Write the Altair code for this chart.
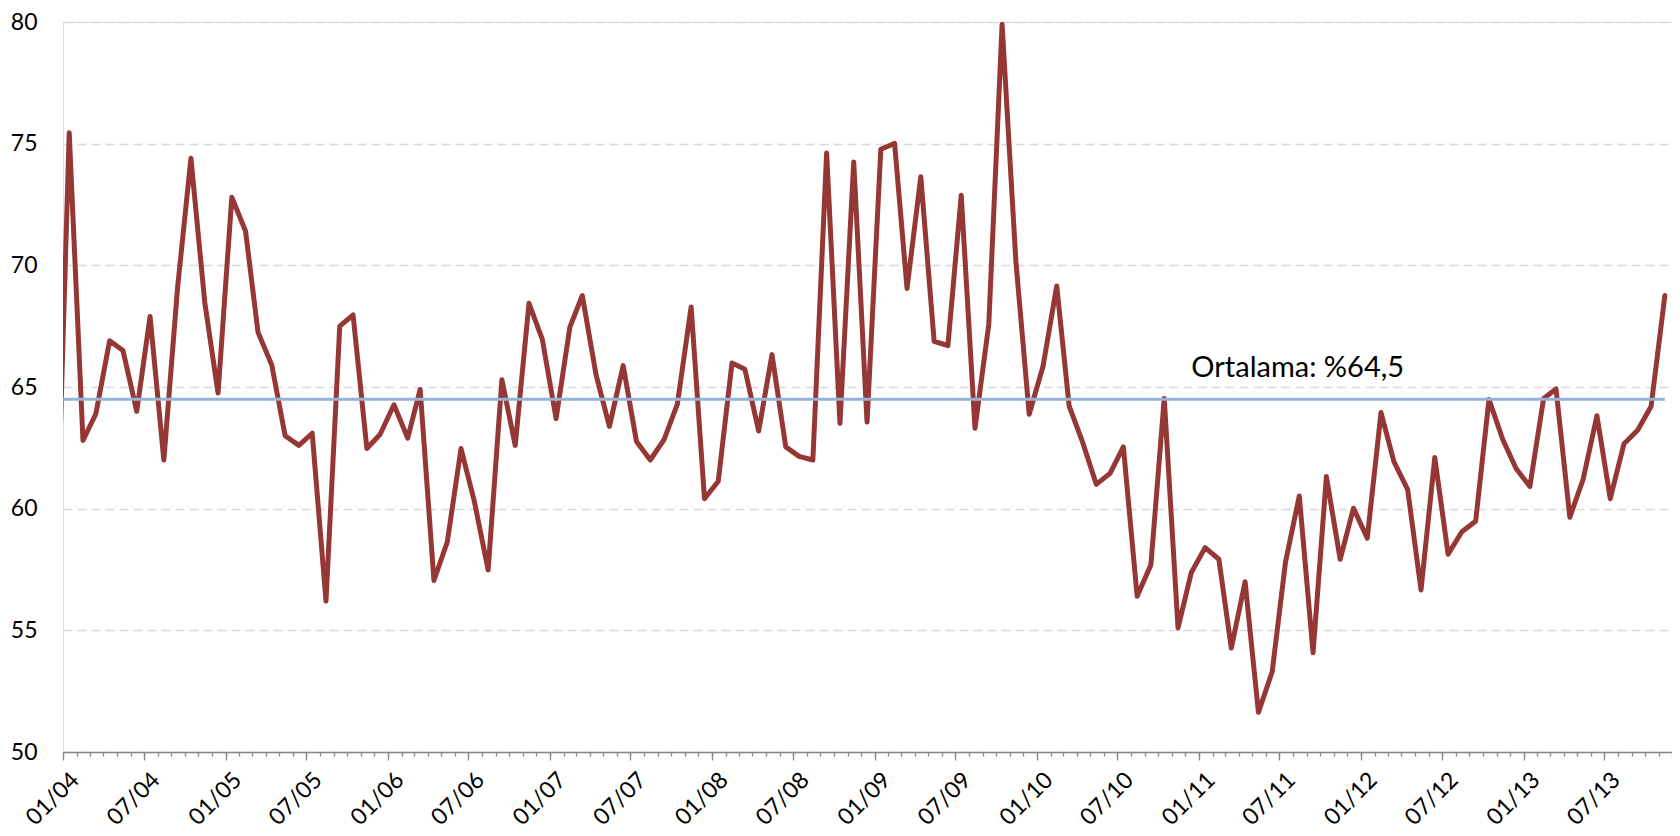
import altair as alt
import pandas as pd

# Monthly dates (mid-month) from Dec 2003 to Nov 2013
dates = []
for y in range(2003, 2014):
    for m in range(1, 13):
        if (y == 2003 and m < 12):
            continue
        if (y == 2013 and m > 11):
            continue
        dates.append(f"{y}-{m:02d}-15T00:00:00")

rate = [
    56.5,
    75.45, 62.8, 63.9, 66.9, 66.5, 64.0, 67.9, 62.0, 69.1, 74.4, 68.5, 64.75,
    72.8, 71.4, 67.25, 65.9, 63.0, 62.6, 63.1, 56.2, 67.5, 67.96, 62.47, 63.06,
    64.27, 62.9, 64.9, 57.05, 58.63, 62.47, 60.3, 57.48, 65.3, 62.6, 68.44, 66.96,
    63.7, 67.46, 68.76, 65.5, 63.38, 65.88, 62.76, 62.0, 62.84, 64.3, 68.29, 60.41,
    61.13, 65.99, 65.73, 63.19, 66.33, 62.54, 62.15, 62.0, 74.62, 63.51, 74.25, 63.56,
    74.77, 75.01, 69.05, 73.64, 66.88, 66.7, 72.88, 63.3, 67.57, 79.9, 70.17, 63.88,
    65.84, 69.15, 64.21, 62.69, 61.0, 61.45, 62.54, 56.4, 57.7, 64.53, 55.1, 57.38,
    58.4, 57.92, 54.27, 57.0, 51.63, 53.3, 57.81, 60.52, 54.08, 61.32, 57.92, 60.02,
    58.79, 63.95, 61.93, 60.78, 56.66, 62.1, 58.13, 59.05, 59.48, 64.49, 62.84, 61.65,
    60.91, 64.53, 64.92, 59.65, 61.21, 63.82, 60.41, 62.67, 63.23, 64.21, 68.76,
]

average = 64.5
avg_label = ["Ortalama: %64,5"]
avg_label_date = ["2010-12-15T00:00:00"]

y_ticks = [50, 55, 60, 65, 70, 75, 80]
label_months = [1, 7]

df = pd.DataFrame({"date": dates, "value": rate})
avg_df = pd.DataFrame({"start": [dates[0]], "end": [dates[-1]], "avg": [average]})
lab_df = pd.DataFrame({"date": avg_label_date, "avg": [average], "text": avg_label})

minor_ticks = [alt.DateTime(year=y, month=m, date=1) for y in range(2004, 2014) for m in range(1, 13)]
major_ticks = [alt.DateTime(year=y, month=m, date=1) for y in range(2004, 2014) for m in label_months]
x_domain = [alt.DateTime(year=2004, month=1, date=1), alt.DateTime(year=2013, month=12, date=1)]

FONT = "Lato"
GREY = "#868686"

x_scale = alt.Scale(domain=x_domain)
y_scale = alt.Scale(domain=[50, 80], nice=False, zero=False)

major_axis = alt.Axis(
    orient="bottom",
    values=major_ticks,
    format="%m/%y",
    labelAngle=-45,
    labelAlign="right",
    labelBaseline="middle",
    labelOverlap=False,
    labelBound=False,
    labelFlush=False,
    labelPadding=16,
    labelOffset=12,
    labelFont=FONT,
    labelFontSize=23,
    labelColor="#000000",
    tickSize=8,
    tickColor=GREY,
    tickWidth=1.3,
    domainColor=GREY,
    domainWidth=1.3,
    grid=False,
    title=None,
)

minor_axis = alt.Axis(
    orient="bottom",
    values=minor_ticks,
    labels=False,
    tickSize=4,
    tickColor=GREY,
    tickWidth=1.3,
    domain=False,
    grid=False,
    title=None,
)

y_axis = alt.Axis(
    values=y_ticks,
    grid=True,
    gridDash=[9, 5],
    gridColor="#d9d9d9",
    gridWidth=1.3,
    domain=False,
    ticks=False,
    labelPadding=26,
    labelFont=FONT,
    labelFontSize=23,
    labelColor="#000000",
    title=None,
)

line = alt.Chart(df).mark_line(
    color="#953735", strokeWidth=5, clip=True, strokeJoin="round", strokeCap="round"
).encode(
    x=alt.X("date:T", scale=x_scale, axis=major_axis),
    y=alt.Y("value:Q", scale=y_scale, axis=y_axis),
)

avg_rule = alt.Chart(avg_df).mark_rule(color="#95b3d7", strokeWidth=3, clip=True).encode(
    x=alt.X("start:T", scale=x_scale, axis=minor_axis),
    x2="end:T",
    y=alt.Y("avg:Q", scale=y_scale, axis=y_axis),
)

label = alt.Chart(lab_df).mark_text(
    align="left", baseline="alphabetic", dy=-22, font=FONT, fontSize=29, color="#000000"
).encode(
    x=alt.X("date:T", scale=x_scale, axis=None),
    y=alt.Y("avg:Q", scale=y_scale, axis=y_axis),
    text="text:N",
)

chart = (
    alt.layer(line, avg_rule, label)
    .resolve_axis(x="independent")
    .properties(
        width=1609,
        height=730,
        autosize=alt.AutoSizeParams(type="none"),
        padding={"left": 55, "top": 14, "right": 0, "bottom": 84},
    )
    .configure_view(stroke=None)
    .configure_axisX(grid=False)
    .configure_axisY(domain=False, ticks=False)
    .configure(background="white")
)

chart.save("out.html", embed_options={"renderer": "svg", "actions": False})
